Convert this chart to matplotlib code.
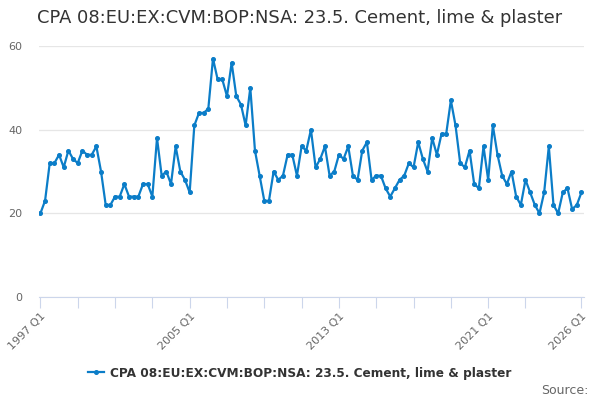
import matplotlib
matplotlib.use("Agg")
import matplotlib.pyplot as plt

# quarterly values, 1997 Q1 .. 2026 Q1
values = [
    20, 23, 32, 32, 34, 31, 35, 33, 32, 35, 34, 34, 36, 30, 22, 22,
    24, 24, 27, 24, 24, 24, 27, 27, 24, 38, 29, 30, 27, 36, 30, 28,
    25, 41, 44, 44, 45, 57, 52, 52, 48, 56, 48, 46, 41, 50, 35, 29,
    23, 23, 30, 28, 29, 34, 34, 29, 36, 35, 40, 31, 33, 36, 29, 30,
    34, 33, 36, 29, 28, 35, 37, 28, 29, 29, 26, 24, 26, 28, 29, 32,
    31, 37, 33, 30, 38, 34, 39, 39, 47, 41, 32, 31, 35, 27, 26, 36,
    28, 41, 34, 29, 27, 30, 24, 22, 28, 25, 22, 20, 25, 36, 22, 20,
    25, 26, 21, 22, 25,
]
quarters = [f"{1997 + i // 4} Q{i % 4 + 1}" for i in range(len(values))]
label_quarters = ["1997 Q1", "2005 Q1", "2013 Q1", "2021 Q1", "2026 Q1"]
series_name = "CPA 08:EU:EX:CVM:BOP:NSA: 23.5. Cement, lime & plaster"
title = "CPA 08:EU:EX:CVM:BOP:NSA: 23.5. Cement, lime & plaster"

blue = "#0b7dc8"
grey = "#666666"
axis_col = "#ccd6eb"

fig = plt.figure(figsize=(6, 4), dpi=100)
ax = fig.add_axes([0.065, 0.2575, 0.908, 0.6275])

x = list(range(len(values)))
line, = ax.plot(x, values, color=blue, lw=1.6, marker="o", markersize=2.6,
                label=series_name)

ax.set_ylim(0, 60)
ax.set_yticks([0, 20, 40, 60])
ax.set_xlim(-0.3, len(values) - 0.5)

# ticks every two years plus the last quarter, labels every 8 years
tick_pos = list(range(0, 105, 8)) + [len(values) - 1]
ax.set_xticks(tick_pos)
ax.set_xticklabels([quarters[i] if quarters[i] in label_quarters else "" for i in tick_pos],
                   rotation=45, ha="right", rotation_mode="anchor")

ax.grid(axis="y", color="#e6e6e6", lw=0.9)
ax.set_axisbelow(True)
for s in ["top", "right", "left"]:
    ax.spines[s].set_visible(False)
ax.spines["bottom"].set_color(axis_col)
ax.spines["bottom"].set_zorder(0)
ax.tick_params(axis="y", length=0, pad=12, labelcolor=grey, labelsize=8)
ax.tick_params(axis="x", length=8, color=axis_col, labelcolor=grey, labelsize=8, pad=2)

fig.text(0.062, 0.955, title, fontsize=12.9, color="#333333", va="center", ha="left")

fig.legend(handles=[line], loc="center", bbox_to_anchor=(0.5, 0.0675), frameon=False,
           prop={"weight": "bold", "size": 8.7}, labelcolor="#333333",
           handlelength=1.3, handletextpad=0.5)

fig.text(0.98, 0.025, "Source:", fontsize=9, color=grey, ha="right", va="center")

fig.savefig("out.png", dpi=100)
